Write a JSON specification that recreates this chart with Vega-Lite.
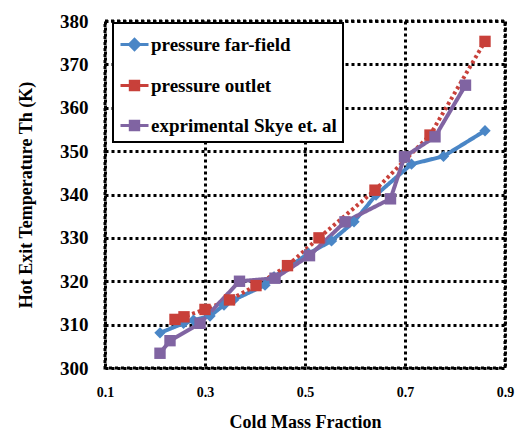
{
  "$schema": "https://vega.github.io/schema/vega-lite/v6.json",
  "autosize": "none",
  "width": 400,
  "height": 347,
  "padding": {"left": 105, "top": 21, "right": 17, "bottom": 64},
  "background": "white",
  "config": {
    "view": {"stroke": "black", "strokeWidth": 3, "strokeDash": [3, 3]},
    "axis": {
      "domain": false,
      "ticks": false,
      "grid": true,
      "gridColor": "black",
      "gridWidth": 3,
      "gridDash": [3, 3],
      "gridOpacity": 1,
      "labelFont": "Liberation Serif",
      "labelFontWeight": "bold",
      "labelColor": "black",
      "labelFlush": false,
      "titleFont": "Liberation Serif",
      "titleFontWeight": "bold",
      "titleColor": "black",
      "titleFontSize": 18
    },
    "legend": {"strokeWidth": 2}
  },
  "data": {
    "values": [
      {"series": "pressure far-field", "cmf": 0.21, "th": 308.1},
      {"series": "pressure far-field", "cmf": 0.257, "th": 310.3},
      {"series": "pressure far-field", "cmf": 0.277, "th": 311.0},
      {"series": "pressure far-field", "cmf": 0.31, "th": 312.0},
      {"series": "pressure far-field", "cmf": 0.338, "th": 314.5},
      {"series": "pressure far-field", "cmf": 0.357, "th": 315.7},
      {"series": "pressure far-field", "cmf": 0.42, "th": 319.1},
      {"series": "pressure far-field", "cmf": 0.438, "th": 321.0},
      {"series": "pressure far-field", "cmf": 0.507, "th": 326.4},
      {"series": "pressure far-field", "cmf": 0.553, "th": 329.3},
      {"series": "pressure far-field", "cmf": 0.598, "th": 333.7},
      {"series": "pressure far-field", "cmf": 0.642, "th": 339.9},
      {"series": "pressure far-field", "cmf": 0.713, "th": 347.0},
      {"series": "pressure far-field", "cmf": 0.777, "th": 348.8},
      {"series": "pressure far-field", "cmf": 0.86, "th": 354.7},
      {"series": "pressure outlet", "cmf": 0.24, "th": 311.2},
      {"series": "pressure outlet", "cmf": 0.258, "th": 311.8},
      {"series": "pressure outlet", "cmf": 0.3, "th": 313.5},
      {"series": "pressure outlet", "cmf": 0.349, "th": 315.7},
      {"series": "pressure outlet", "cmf": 0.402, "th": 319.0},
      {"series": "pressure outlet", "cmf": 0.465, "th": 323.6},
      {"series": "pressure outlet", "cmf": 0.528, "th": 330.0},
      {"series": "pressure outlet", "cmf": 0.64, "th": 341.0},
      {"series": "pressure outlet", "cmf": 0.75, "th": 353.7},
      {"series": "pressure outlet", "cmf": 0.86, "th": 375.3},
      {"series": "exprimental Skye et. al", "cmf": 0.21, "th": 303.4},
      {"series": "exprimental Skye et. al", "cmf": 0.23, "th": 306.3},
      {"series": "exprimental Skye et. al", "cmf": 0.29, "th": 310.3},
      {"series": "exprimental Skye et. al", "cmf": 0.369, "th": 320.0},
      {"series": "exprimental Skye et. al", "cmf": 0.44, "th": 320.7},
      {"series": "exprimental Skye et. al", "cmf": 0.509, "th": 325.9},
      {"series": "exprimental Skye et. al", "cmf": 0.58, "th": 333.7},
      {"series": "exprimental Skye et. al", "cmf": 0.671, "th": 339.0},
      {"series": "exprimental Skye et. al", "cmf": 0.699, "th": 348.7},
      {"series": "exprimental Skye et. al", "cmf": 0.76, "th": 353.3},
      {"series": "exprimental Skye et. al", "cmf": 0.821, "th": 365.2}
    ]
  },
  "encoding": {
    "x": {
      "field": "cmf",
      "type": "quantitative",
      "title": "Cold Mass Fraction",
      "scale": {"domain": [0.1, 0.9], "nice": false, "zero": false},
      "axis": {
        "values": [0.1, 0.3, 0.5, 0.7, 0.9],
        "format": ".1f",
        "labelFontSize": 14,
        "labelPadding": 17,
        "titlePadding": 14
      }
    },
    "y": {
      "field": "th",
      "type": "quantitative",
      "title": "Hot Exit Temperature Th (K)",
      "scale": {"domain": [300, 380], "nice": false, "zero": false},
      "axis": {
        "values": [300, 310, 320, 330, 340, 350, 360, 370, 380],
        "labelFontSize": 19,
        "labelPadding": 17,
        "titleX": -79,
        "titleBaseline": "middle"
      }
    }
  },
  "layer": [
    {
      "mark": {"type": "line", "strokeWidth": 4},
      "encoding": {
        "color": {
          "field": "series",
          "type": "nominal",
          "scale": {"domain": ["pressure far-field", "pressure outlet", "exprimental Skye et. al"], "range": ["#4A86C6", "#C8403A", "#8064A2"]},
          "legend": null
        },
        "strokeDash": {
          "field": "series",
          "type": "nominal",
          "scale": {"domain": ["pressure far-field", "pressure outlet", "exprimental Skye et. al"], "range": [[1, 0], [3, 3], [1, 0]]},
          "legend": null
        }
      }
    },
    {
      "mark": {"type": "point", "filled": true, "opacity": 1, "size": 130},
      "encoding": {
        "color": {
          "field": "series",
          "type": "nominal",
          "scale": {"domain": ["pressure far-field", "pressure outlet", "exprimental Skye et. al"], "range": ["#4A86C6", "#C8403A", "#8064A2"]},
          "legend": null
        },
        "shape": {
          "field": "series",
          "type": "nominal",
          "scale": {"domain": ["pressure far-field", "pressure outlet", "exprimental Skye et. al"], "range": ["diamond", "square", "square"]},
          "legend": null
        }
      }
    },
    {
      "mark": {"type": "point", "filled": true, "opacity": 0, "strokeWidth": 3},
      "encoding": {
        "fill": {
          "field": "series",
          "type": "nominal",
          "title": null,
          "scale": {"domain": ["pressure far-field", "pressure outlet", "exprimental Skye et. al"], "range": ["#4A86C6", "#C8403A", "#8064A2"]},
          "legend": {
            "orient": "none",
            "legendX": 8,
            "legendY": 2,
            "title": null,
            "labelFont": "Liberation Serif",
            "labelFontWeight": "bold",
            "labelFontSize": 19,
            "labelColor": "black",
            "labelOffset": 1,
            "labelLimit": 400,
            "symbolSize": 784,
            "symbolStrokeWidth": 3,
            "symbolOpacity": 1,
            "rowPadding": 14,
            "padding": 6,
            "strokeColor": "black",
            "fillColor": "white",
            "encode": {
              "symbols": {
                "update": {
                  "fill": {"signal": "datum.value === 'pressure far-field' ? '#4A86C6' : datum.value === 'pressure outlet' ? '#C8403A' : '#8064A2'"},
                  "stroke": {"signal": "datum.value === 'pressure far-field' ? '#4A86C6' : datum.value === 'pressure outlet' ? '#C8403A' : '#8064A2'"},
                  "fillOpacity": {"value": 1},
                  "opacity": {"value": 1}
                }
              }
            }
          }
        },
        "stroke": {
          "field": "series",
          "type": "nominal",
          "title": null,
          "scale": {"domain": ["pressure far-field", "pressure outlet", "exprimental Skye et. al"], "range": ["#4A86C6", "#C8403A", "#8064A2"]}
        },
        "shape": {
          "field": "series",
          "type": "nominal",
          "title": null,
          "scale": {
            "domain": ["pressure far-field", "pressure outlet", "exprimental Skye et. al"],
            "range": [
              "M-1,0H1M-0.36,0L0,-0.36L0.36,0L0,0.36Z",
              "M-1,0H1M-0.3,-0.3H0.3V0.3H-0.3Z",
              "M-1,0H1M-0.3,-0.3H0.3V0.3H-0.3Z"
            ]
          }
        }
      }
    }
  ],
  "resolve": {"scale": {"shape": "independent", "color": "independent", "stroke": "independent", "fill": "independent"}, "legend": {"shape": "independent", "color": "independent"}}
}
